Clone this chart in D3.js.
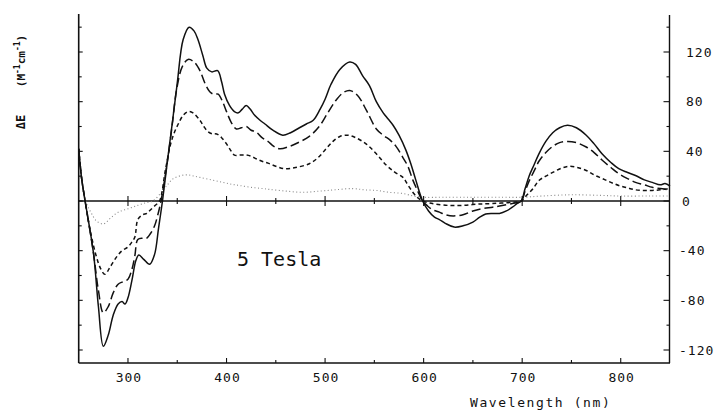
<!DOCTYPE html>
<html><head><meta charset="utf-8">
<script src="https://cdn.jsdelivr.net/npm/d3@7"></script>
<style>
html,body{margin:0;padding:0;background:#fff;}
svg{display:block;}
text{font-family:"DejaVu Sans Mono",monospace;fill:#111;}
</style></head>
<body>
<svg id="chart" width="718" height="412"></svg>
<script>
// ---- data ----
const solidWl  = [250,253,256.5,265,270,275,280,285,290,294,297,300,304,308,311,316,322,327,331,335,340,345,350,356,362,367,371,376,380,385,391,395,398,403,408,412,416,420,424,428.6,434,439,447,457,465,474,481,488,495,500,506,515,525,531,538,545,552,559,564,569,575,582,587,592,599,605,611,616,622,631,640,650,657,663,670,677,684,690,695,699,703,707,712,717,724,731,738,746,755,765,773,781,790,798,807,815,824,832,840,845,850];
const solidVal = [42,18,0,-42,-85,-117,-108,-92,-83,-81,-83,-78,-64,-48,-43.5,-47,-51,-43,-22,0,32,63,95,130,140,137,130,117,107,104,105,96,86,77,72,71,74,77,74,69,65,62,57,53,55,59,62,65,74,82,94,106,112,110,101,93,80,71,66,61,53,41,30,17,0,-8,-13,-15,-18,-21,-20,-17,-13,-10.5,-10,-10,-8,-5,-2,0,10,20,29,38,48,55,59,61,59,53,46,38,31,26,23,20.5,17,15,13,14,12];

const longWl  = [250,253,256.5,265,270,275,280,285,290,295,300,304,307,310,315,319,323,327,330,333.5,340,345,349,355,361,367,373,378,383,387,391.5,396,400,405,410,415,420,425,430,436,442,448,454,464,474,484,494,502,510,518,525,533,542,552,559,566,572,579,584,589,594,599,604,609,616,622,630,640,650,660,670,677,690,699,703,707,712,717,724,731,738,746,755,765,773,781,790,798,807,815,824,832,840,850];
const longVal = [42,18,0,-42,-72,-90,-85,-74,-67,-65,-63,-55,-44,-31,-30,-30,-26,-20,-12,0,32,62,88,108,114,112,105,95,88,86,86,80,72,63,58,59,60,57,55.6,51,48,44,42,44,47.5,52,60,70,80,87,89,85,73,58,53,49,44,35,28,17,8,0,-4,-7,-9,-11,-12,-11,-8,-6,-5,-4,-2,0,8,16,24,32,39,44,47,48,47,43.5,39,33,27,22,18,15,13,11,10,9];

const shortWl  = [250,253,256.5,262,268,272,276.6,282,288.5,294,300,304,307,310,315,319,323,327.5,332,338,343,347,351,356,361,366,373,377,381,386,390,395,400,404,408,414,420,425,430,436,442,450,459,470,484,493,501,508,515,523,531,541.6,552,562,571,579,584,590,595,599,605,612,626,640,655,670,690,699,705,711,717,724,731,740,748,756,765,773,781.5,790,798,807,815,824,832,840,850];
const shortVal = [42,18,0,-25,-45,-54,-59,-53,-45,-40,-37,-33,-29,-15,-11,-10,-7,-3.6,0,25,45,55,62,69,72,71,65,60,56,54,54,51,46,41,37,37,37,36,34,32,30.5,28,26,27,30,35,42,48,52,53,51,46,38,29,23,19,13,6,2,0,-1.5,-2.5,-3.6,-3.5,-2.5,-2,-1,0,5,10,16.5,20,23,26.5,28,27,24.6,21,18,15,12.5,10.5,9,8.5,8.5,9,10];

const dotWl  = [250,253,257,263,268,275,282,290,300,310,318,325,333,340,346,354,361,367,373,385,396,405,413,425,437,444,460,477,495,510,528,540,552,565,579,590,600,620,650,680,700,720,750,780,800,830,850];
const dotVal = [42,20,0,-10,-16,-18.5,-14,-9,-6.3,-3.5,-1.5,0,6,13,18,20.5,21,20,19,17,15,13.5,12.5,11,10,9.3,8,7,8,9,10,9,8.5,7,6,4,3,3,3,3,3,4,5,4.5,4,4,4];

const xTicks = [300,400,500,600,700,800];
const xMinor = [350,450,550,650,750];
const yTicks = [-120,-80,-40,0,40,80,120];
const yMinor = [-100,-60,-20,20,60,100,140];
const yLabelText = "ΔE";
const xLabelText = "Wavelength (nm)";
const annotation = "5 Tesla";

// ---- layout ----
const svg = d3.select("#chart");
const x = d3.scaleLinear().domain([250,850]).range([78.7,670]);
const y = d3.scaleLinear().domain([-120,120]).range([350,52]);
const yTop = y.invert(14), yBot = y.invert(363);

const g = svg.append("g");
const ink = "#111";

// frame
g.append("line").attr("x1",x(250)).attr("x2",x(250)).attr("y1",y(yTop)).attr("y2",y(yBot)).attr("stroke",ink).attr("stroke-width",1.6);
g.append("line").attr("x1",x(850)-0.5).attr("x2",x(850)-0.5).attr("y1",y(yTop)+1).attr("y2",y(yBot)).attr("stroke",ink).attr("stroke-width",1.4);
g.append("line").attr("x1",x(250)).attr("x2",x(850)).attr("y1",y(yBot)).attr("y2",y(yBot)).attr("stroke",ink).attr("stroke-width",1.6);
// zero line
g.append("line").attr("x1",x(250)).attr("x2",x(850)).attr("y1",y(0)).attr("y2",y(0)).attr("stroke",ink).attr("stroke-width",1.3);

// left ticks (inward)
const allY = yTicks.concat(yMinor);
g.selectAll(".lt").data(allY).join("line")
  .attr("x1",x(250)).attr("x2",d=>x(250)+(yTicks.includes(d)?4:3))
  .attr("y1",d=>y(d)).attr("y2",d=>y(d)).attr("stroke",ink).attr("stroke-width",1.1);
// right ticks (inward)
g.selectAll(".rt").data(allY).join("line")
  .attr("x1",x(850)-0.5).attr("x2",d=>x(850)-0.5-(yTicks.includes(d)?6:3))
  .attr("y1",d=>y(d)).attr("y2",d=>y(d)).attr("stroke",ink).attr("stroke-width",1.1);
// bottom ticks
g.selectAll(".bt").data(xTicks.concat(xMinor)).join("line")
  .attr("x1",d=>x(d)).attr("x2",d=>x(d))
  .attr("y1",y(yBot)).attr("y2",d=>y(yBot)-(xTicks.includes(d)?5:3))
  .attr("stroke",ink).attr("stroke-width",1.1);
// zero-line ticks
g.selectAll(".zt").data(xTicks.concat(xMinor)).join("line")
  .attr("x1",d=>x(d)).attr("x2",d=>x(d))
  .attr("y1",d=>y(0)-(xTicks.includes(d)?5:3)).attr("y2",d=>y(0)+(xTicks.includes(d)?5:3))
  .attr("stroke",ink).attr("stroke-width",1.1);

// right tick labels
g.selectAll(".rl").data(yTicks).join("text")
  .attr("x",d=> d<0 ? 679 : (d===0 ? 682 : 686))
  .attr("y",d=>y(d)+4.5)
  .attr("font-size",13).attr("letter-spacing",1)
  .text(d=> d<0 ? "-"+Math.abs(d) : String(d));

// bottom tick labels
g.selectAll(".bl").data(xTicks).join("text")
  .attr("x",d=>x(d)+1).attr("y",382)
  .attr("text-anchor","middle").attr("font-size",13).attr("letter-spacing",1)
  .text(d=>String(d));

// axis titles
g.append("text").attr("x",470).attr("y",407).attr("font-size",13).attr("letter-spacing",1.6).text(xLabelText);

g.append("text").attr("transform","translate(25,122) rotate(-90)")
  .attr("text-anchor","middle").attr("font-size",12).attr("font-weight","bold").text(yLabelText);
const yu = g.append("text").attr("transform","translate(25,61) rotate(-90)")
  .attr("text-anchor","middle").attr("font-size",11).attr("font-weight","bold");
yu.append("tspan").text("(M");
yu.append("tspan").attr("font-size",8).attr("dy",-5).text("-1");
yu.append("tspan").attr("dy",5).text("cm");
yu.append("tspan").attr("font-size",8).attr("dy",-5).text("-1");
yu.append("tspan").attr("dy",5).text(")");

// annotation
g.append("text").attr("x",237).attr("y",266).attr("font-size",20).text(annotation);

// ---- curves ----
const line = d3.line().x(d=>x(d[0])).y(d=>y(d[1])).curve(d3.curveCatmullRom.alpha(0.5));
const series = [
  {wl:dotWl,  v:dotVal,  dash:"1,2.5", color:"#888", w:1.1},
  {wl:shortWl,v:shortVal,dash:"4,3",   color:ink,   w:1.5},
  {wl:longWl, v:longVal, dash:"9,4",   color:ink,   w:1.5},
  {wl:solidWl,v:solidVal,dash:null,    color:ink,   w:1.5}
];
series.forEach(s=>{
  g.append("path").datum(s.wl.map((w,i)=>[w,s.v[i]]))
    .attr("d",line).attr("fill","none").attr("stroke",s.color)
    .attr("stroke-width",s.w).attr("stroke-dasharray",s.dash);
});
</script>
</body></html>
